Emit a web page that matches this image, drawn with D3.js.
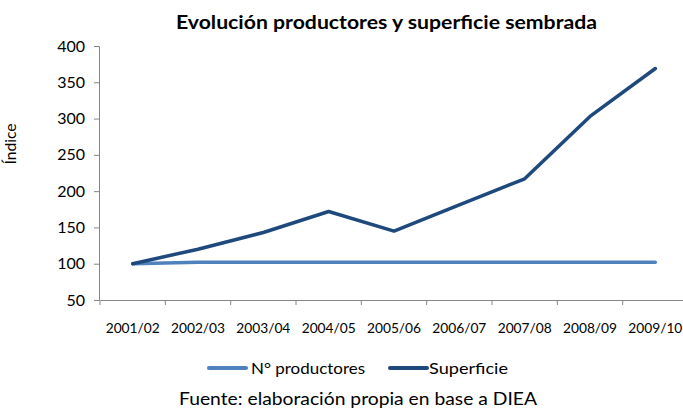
<!DOCTYPE html>
<html><head><meta charset="utf-8">
<script src="https://cdn.jsdelivr.net/npm/d3@7"></script>
<style>body{margin:0;background:#fff}svg{display:block;font-family:Lato,"Open Sans",sans-serif}</style>
</head><body><svg id="c" width="683" height="408"></svg>
<script>
const categories=["2001/02","2002/03","2003/04","2004/05","2005/06","2006/07","2007/08","2008/09","2009/10"];
const productores=[100,102,102,102,102,102,102,102,102];
const superficie=[100,120,143,172,145,181,217,303,369];
const yTicks=[50,100,150,200,250,300,350,400];
const seriesNames=["N° productores","Superficie"];
const colors=["#4F81BD","#1F497D"];

const svg=d3.select("#c");
const x=d3.scaleBand().domain(categories).range([100,688]);
const y=d3.scaleLinear().domain([50,400]).range([300,46]);

svg.append("text").attr("x",176).attr("y",29)
 .attr("font-size",19.5).attr("font-weight","bold").attr("fill","#000")
 .attr("textLength",421).attr("lengthAdjust","spacingAndGlyphs")
 .text("Evolución productores y superficie sembrada");

const ya=svg.append("g").attr("transform","translate(99,0)").call(d3.axisLeft(y).tickValues(yTicks).tickSize(5).tickPadding(9));
ya.selectAll("text").attr("font-size",16).attr("fill","#000").style("font-family","Lato,sans-serif");
ya.selectAll("line,path").attr("stroke","#868686");

const xa=svg.append("g").attr("transform","translate(0,300)").call(d3.axisBottom(x).tickSize(0).tickPadding(24));
xa.selectAll("text").attr("font-size",13).attr("fill","#000").style("font-family","Lato,sans-serif")
 .attr("textLength",54).attr("lengthAdjust","spacingAndGlyphs");
xa.select("path").attr("stroke","#868686");
xa.selectAll(".sep").data(d3.range(categories.length+1)).enter().append("line")
 .attr("x1",i=>100+i*x.step()).attr("x2",i=>100+i*x.step()).attr("y1",0).attr("y2",5).attr("stroke","#868686");

svg.append("text").attr("transform","translate(16,144) rotate(-90)").attr("text-anchor","middle")
 .attr("font-size",14.5).attr("fill","#000").attr("textLength",41).attr("lengthAdjust","spacingAndGlyphs").text("Índice");

const line=d3.line().x((d,i)=>x(categories[i])+x.bandwidth()/2).y(d=>y(d));
[productores,superficie].forEach((s,k)=>{
 svg.append("path").datum(s).attr("d",line).attr("fill","none").attr("stroke",colors[k])
  .attr("stroke-width",3.5).attr("stroke-linejoin","round").attr("stroke-linecap","round");
});

const lg=[{x:209,tx:251,w:114},{x:390,tx:429,w:79}];
seriesNames.forEach((n,k)=>{
 svg.append("line").attr("x1",lg[k].x).attr("x2",lg[k].x+37).attr("y1",368).attr("y2",368)
  .attr("stroke",colors[k]).attr("stroke-width",4).attr("stroke-linecap","round");
 svg.append("text").attr("x",lg[k].tx).attr("y",374).attr("font-size",15.5).attr("fill","#000")
  .attr("textLength",lg[k].w).attr("lengthAdjust","spacingAndGlyphs").text(n);
});

svg.append("text").attr("x",179).attr("y",405).attr("font-size",17.5)
 .attr("fill","#000").attr("textLength",358).attr("lengthAdjust","spacingAndGlyphs")
 .text("Fuente: elaboración propia en base a DIEA");
</script></body></html>
